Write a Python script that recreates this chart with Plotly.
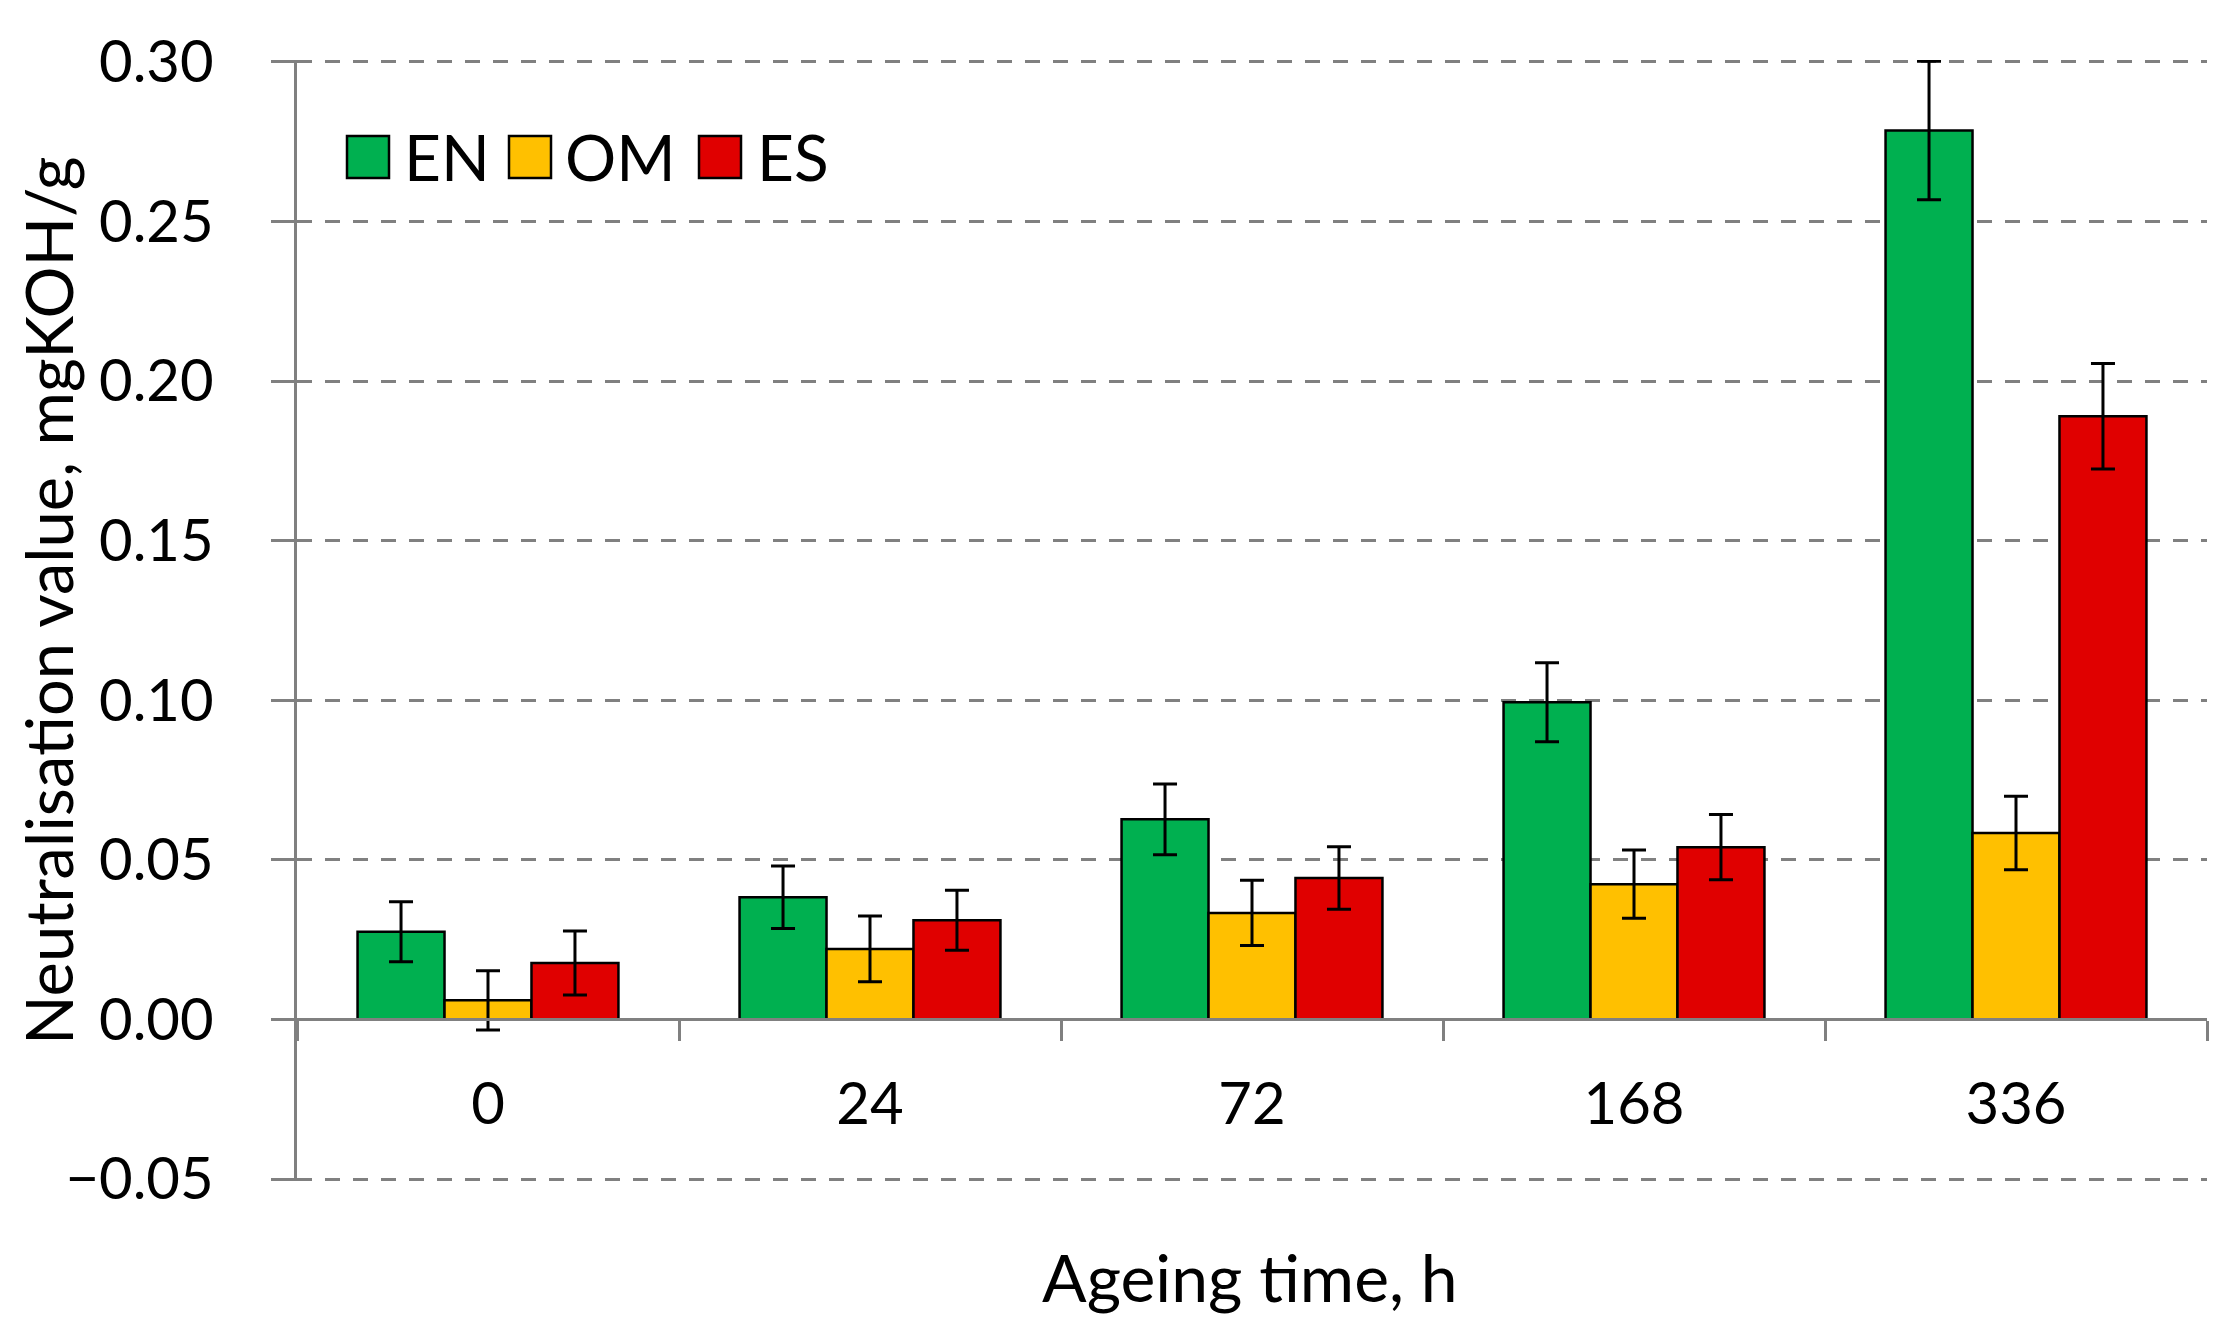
import plotly.graph_objects as go

# ---- data ----
categories = ["0", "24", "72", "168", "336"]
series_names = ["EN", "OM", "ES"]
en_values = [0.0275, 0.0383, 0.0627, 0.0994, 0.2785]
om_values = [0.0060, 0.0221, 0.0334, 0.0424, 0.0584]
es_values = [0.0177, 0.0311, 0.0443, 0.0540, 0.1890]
en_errors = [0.0094, 0.0098, 0.0111, 0.0124, 0.0217]
om_errors = [0.0093, 0.0103, 0.0102, 0.0107, 0.0115]
es_errors = [0.0100, 0.0094, 0.0098, 0.0102, 0.0165]
y_ticks = [-0.05, 0.00, 0.05, 0.10, 0.15, 0.20, 0.25, 0.30]
x_title = "Ageing time, h"
y_title = "Neutralisation value, mgKOH/g"

colors = ["#00B050", "#FFC000", "#E00000"]
values = [en_values, om_values, es_values]
errors = [en_errors, om_errors, es_errors]

# page body has an 8px margin, so the figure is drawn 8px in from the edges
OFF = 8
W, H = 2234 - OFF, 1334 - OFF

# target plot area in screenshot pixels
AX_LEFT, AX_RIGHT = 297, 2207
TOP_TICK, BOT_TICK = 62, 1179
PAD = 0.0006  # tiny range padding so edge gridlines are drawn
y0, y1 = y_ticks[0] - PAD, y_ticks[-1] + PAD
ppu = (BOT_TICK - TOP_TICK) / (y_ticks[-1] - y_ticks[0])
pad_px = PAD * ppu

ML = AX_LEFT - OFF
MR = W - (AX_RIGHT - OFF)
MT = round(TOP_TICK - OFF - pad_px)
MB = round(H - (BOT_TICK - OFF + pad_px))
PW = W - ML - MR
PH = H - MT - MB


def px_x(s):
    return (s - OFF - ML) / PW


def px_y(s):
    return (H - MB - (s - OFF)) / PH


FONT = "Lato, 'Open Sans', sans-serif"
GRID = "#808080"

fig = go.Figure()
for name, vals, errs, col in zip(series_names, values, errors, colors):
    fig.add_trace(go.Bar(
        x=categories, y=vals, name=name,
        marker=dict(color=col, line=dict(color="#000000", width=2.5)),
        error_y=dict(type="data", array=errs, visible=True,
                     color="#000000", thickness=3, width=12),
        showlegend=False,
    ))

zero_pos = (0 - y0) / (y1 - y0)

fig.update_layout(
    width=W, height=H,
    margin=dict(l=ML, r=MR, t=MT, b=MB, autoexpand=False),
    paper_bgcolor="white", plot_bgcolor="white",
    barmode="group", bargap=0.317, bargroupgap=0,
    font=dict(family=FONT, color="#000000", size=58),
    xaxis=dict(
        type="category", range=[-0.5, len(categories) - 0.5],
        anchor="free", position=zero_pos,
        showline=True, linecolor=GRID, linewidth=3,
        ticks="outside", tickson="boundaries", ticklen=20,
        tickcolor=GRID, tickwidth=2.5,
        ticklabelstandoff=33,
        tickfont=dict(size=58, family=FONT, color="#000000"),
        showgrid=False, zeroline=False,
    ),
    yaxis=dict(
        domain=[0, 1],
        range=[y0, y1], tickvals=y_ticks, tickformat=".2f",
        showline=True, linecolor=GRID, linewidth=2.5,
        ticks="outside", ticklen=23, tickcolor=GRID, tickwidth=2.5,
        ticklabelstandoff=46,
        tickfont=dict(size=58, family=FONT, color="#000000"),
        showgrid=True, gridcolor=GRID, gridwidth=3, griddash="15px,13px",
        zeroline=False,
    ),
)

# axis titles
fig.add_annotation(
    text=x_title, xref="paper", yref="paper",
    x=px_x(1250), y=px_y(1276), xanchor="center", yanchor="middle",
    showarrow=False, font=dict(size=66, family=FONT, color="#000000"),
)
fig.add_annotation(
    text=y_title, xref="paper", yref="paper",
    x=px_x(48), y=px_y(601), xanchor="center", yanchor="middle",
    textangle=-90, showarrow=False, borderpad=0,
    font=dict(size=65, family=FONT, color="#000000"),
)

# legend (swatches + labels)
sw_left = [347, 509, 699]
txt_left = [402, 563, 755]
for name, col, sl, tl in zip(series_names, colors, sw_left, txt_left):
    fig.add_shape(
        type="rect", xref="paper", yref="paper",
        x0=px_x(sl), x1=px_x(sl + 42), y0=px_y(178), y1=px_y(136),
        fillcolor=col, line=dict(color="#000000", width=2.5),
    )
    fig.add_annotation(
        text=name, xref="paper", yref="paper",
        x=px_x(tl), y=px_y(157), xanchor="left", yanchor="middle",
        showarrow=False, font=dict(size=64, family=FONT, color="#000000"),
    )

fig.write_html("out.html")
